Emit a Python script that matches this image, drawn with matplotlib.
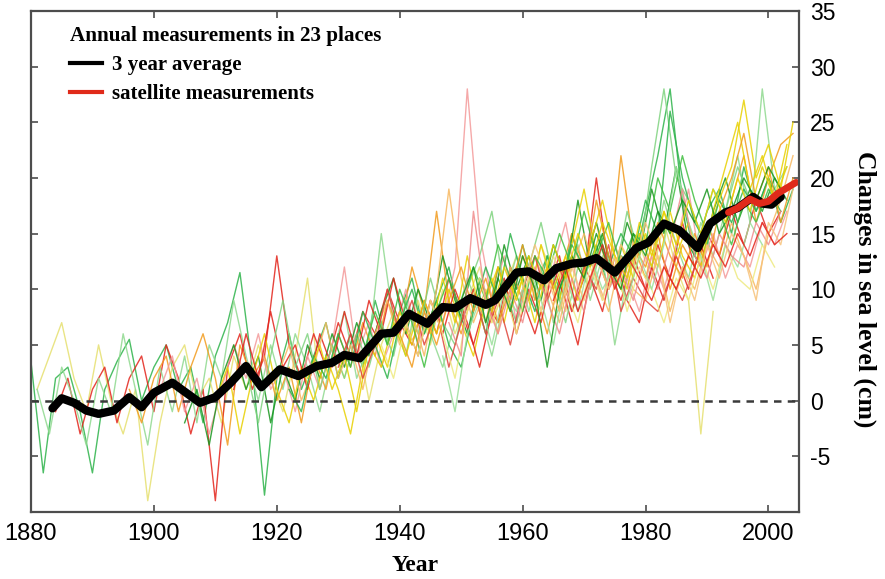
import numpy as np
import matplotlib
matplotlib.use("Agg")
import matplotlib.pyplot as plt
from matplotlib.lines import Line2D

plt.rcParams['axes.unicode_minus'] = False

# 3 year average (black) and satellite record (red)
avg_years = [1883.5, 1885, 1887, 1889, 1891, 1893.5, 1896, 1898, 1900, 1903, 1905, 1907.5,
             1910, 1912.5, 1915, 1917.5, 1920.5, 1923.5, 1926.5, 1929, 1931, 1933.5, 1937,
             1939, 1941.5, 1944.5, 1947, 1949, 1951.5, 1954, 1955.5, 1959, 1961, 1963.5,
             1965.5, 1968, 1970, 1972, 1975, 1978.5, 1980.5, 1983, 1985.5, 1988.5, 1990.5,
             1993, 1995, 1997.5, 1999, 2000.5, 2002]
avg_vals = [-0.7, 0.2, -0.2, -0.9, -1.2, -0.9, 0.3, -0.6, 0.7, 1.6, 0.8, -0.2,
            0.3, 1.6, 3.1, 1.2, 2.8, 2.2, 3.1, 3.4, 4.1, 3.8, 6.0,
            6.1, 7.8, 6.9, 8.4, 8.3, 9.2, 8.6, 9.0, 11.5, 11.6, 10.8,
            11.9, 12.3, 12.4, 12.8, 11.5, 13.7, 14.2, 15.9, 15.3, 13.7, 15.9,
            16.9, 17.3, 18.3, 17.7, 17.6, 18.3]
sat_years = [1993.5, 1995, 1997, 1998.5, 2000, 2001.5, 2003, 2004.5]
sat_vals = [16.9, 17.3, 18.1, 17.7, 17.9, 18.6, 19.1, 19.6]

# tide gauge records, one value every 2 years from the start year
starts = [1880, 1881, 1884, 1881, 1896, 1901, 1905, 1910, 1913, 1915, 1920, 1922,
          1925, 1930, 1934, 1937, 1940, 1947, 1948, 1950, 1955, 1960, 1965]
s01 = [3.5, -6.5, 2, 3, -1, -6.5, 1, 3.5, 5.5, 0, 3, 5, 1, 3, -2, 4, 7, 11.5, 3, -8.5,
       2, 6, 1, 4, 7, 2, 6, 3, 9, 5, 8, 11, 6, 9, 12, 7, 10, 6, 12, 9, 14, 10, 13, 9,
       15, 11, 14, 10, 13, 12, 17, 22, 28, 18, 13, 17, 19, 15, 21, 17, 20, 16, 19]
s02 = [1, 4, 7, 2, -1, 5, 0, -3, 1, -9, -2, 3, 5, 0, 2, -2, 4, 1, 5, 2, -1, 4, 11, 1,
       5, 2, 6, 0, 5, 8, 4, 9, 5, 10, 6, 9, 12, 7, 10, 13, 9, 14, 11, 8, 13, 10, 15, 11,
       9, 14, 11, 16, 12, 9, -3, 8]
s03 = [-1, 2, -3, 1, 3, -2, 2, 4, -1, 5, 2, -3, 1, -9, 3, 6, 1, 4, 13, 5, 2, 6, 3, 7,
       4, 8, 6, 10, 7, 5, 9, 6, 11, 8, 5, 9, 7, 12, 9, 6, 10, 13, 8, 11, 20, 12, 9, 13,
       10, 14, 11, 16, 12, 15, 13, 17, 14, 18, 15, 17]
s04 = [1, -3, 3, 0, -4, 2, -1, 6, 1, -4, 3, -1, 4, -2, 5, 2, 9, 4, 0, 5, 1, 6, 3, -1,
       4, 8, 2, 5, 15, 7, 4, 10, 6, 3, 7, 11, 8, 4, 9, 13, 8, 12, 7, 10, 14, 9, 13, 5,
       11, 15, 12, 18, 14, 11, 16, 13, 17, 22, 16, 28, 19, 21]
s05 = [1, -2, 2, 4, -1, 3, 6, 2, -4, 5, 2, 4, 0, 3, -2, 4, 1, 6, 3, 7, 4, 9, 6, 12, 8,
       17, 9, 6, 10, 7, 12, 9, 13, 10, 6, 11, 15, 12, 16, 11, 22, 14, 11, 15, 10, 14,
       12, 16, 13, 18, 22, 16, 20, 23, 24]
s06 = [1, 4, -1, 2, -3, 1, 5, 2, 6, 1, 3, -1, 4, 1, 5, 12, 4, 7, 3, 6, 10, 5, 9, 7, 12,
       28, 15, 9, 13, 7, 11, 8, 12, 16, 10, 13, 9, 14, 11, 8, 13, 10, 14, 19, 12, 15,
       11, 14, 12, 16, 14, 17]
s07 = [-2, 1, -4, 2, 5, 1, 4, -2, 3, 0, 5, 2, 6, 3, 7, 4, 8, 11, 6, 10, 7, 13, 9, 6,
       11, 8, 14, 10, 13, 9, 14, 11, 18, 12, 15, 11, 16, 13, 19, 15, 21, 14, 12, 17,
       20, 16, 19, 17, 20, 18]
s08 = [0, 3, -3, 2, 6, 1, -2, 3, 0, 4, 1, -3, 3, 6, 3, 8, 5, 9, 6, 10, 7, 4, 9, 12, 8,
       11, 7, 12, 9, 14, 19, 13, 10, 14, 11, 15, 12, 17, 13, 11, 15, 18, 21, 27, 20,
       23, 19, 25]
s09 = [1, 6, 2, 8, 3, 5, 1, 6, 3, 8, 4, 9, 6, 11, 7, 4, 9, 6, 10, 7, 3, 8, 11, 6, 10,
       7, 12, 9, 5, 11, 8, 13, 9, 7, 12, 9, 13, 10, 14, 11]
s10 = [3, -2, 4, 9, 3, 6, 1, 5, 2, 6, 3, 7, 4, 9, 6, 11, 7, 5, 10, 13, 17, 10, 7, 12,
       16, 11, 7, 12, 10, 14, 11, 17, 13, 21, 28, 20, 18, 15, 19, 17, 21, 18]
s11 = [2, 5, 0, 3, 7, 2, 5, 1, 6, 9, 5, 8, 4, 10, 19, 11, 7, 10, 6, 12, 9, 13, 10, 7,
       12, 15, 11, 8, 13, 10, 9, 13, 8, 12, 10, 14, 12, 16, 13, 10, 15, 18, 22]
s12 = [1, -1, 4, 2, 6, 3, 8, 5, 2, 7, 10, 6, 9, 5, 3, 8, 12, 9, 15, 11, 8, 13, 10, 14,
       12, 16, 12, 15, 13, 18, 15, 26, 20, 16, 14, 18, 16, 19, 17, 20, 18]
s13 = [2, 5, 1, 4, -1, 5, 3, 7, 4, 8, 6, 11, 7, 13, 8, 11, 7, 12, 9, 14, 10, 13, 9, 14,
       18, 13, 10, 15, 12, 17, 13, 16, 12, 17, 21, 25, 19, 22, 18, 21]
s14 = [3, 6, 2, 5, 10, 6, 9, 5, 8, 3, 7, 10, 6, 9, 5, 10, 13, 9, 12, 8, 12, 10, 14, 8,
       11, 9, 8, 11, 9, 12]
s15 = [4, 8, 5, 10, 7, 3, 8, 11, 8, 12, 9, 14, 11, 8, 13, 11, 15, 12, 17, 13, 16, 12,
       15, 14, 20, 17, 22, 18, 15, 17, 14, 18, 16, 19, 17]
s16 = [5, 2, 7, 4, 9, 6, 2, 8, 11, 7, 10, 6, 11, 8, 13, 10, 7, 12, 9, 13, 8, 12, 10, 7,
       11, 9, 13, 10, 14, 11, 10, 14, 12]
s17 = [6, 3, 8, 5, 9, 12, 8, 11, 7, 10, 14, 9, 12, 8, 13, 11, 18, 13, 10, 14, 12, 16,
       13, 11, 15, 12, 17, 20, 24, 18, 21, 16, 20]
s18 = [4, -1, 6, 9, 5, 10, 8, 12, 9, 5, 11, 8, 13, 10, 12, 9, 13, 10, 14, 21, 16, 13,
       9, 14, 12, 16, 14]
s19 = [7, 4, 17, 9, 6, 10, 7, 12, 9, 6, 11, 8, 13, 10, 12, 9, 13, 10, 14, 19, 13, 11,
       15, 13, 12, 16, 14, 17]
s20 = [9, 12, 7, 11, 8, 13, 10, 3, 10, 13, 11, 15, 12, 10, 15, 13, 17, 15, 18, 16, 19,
       15, 17, 20, 18, 21, 19]
s21 = [8, 12, 9, 13, 10, 14, 11, 15, 12, 16, 13, 11, 16, 13, 17, 14, 18, 15, 19, 16,
       20, 17, 21, 18, 23]
s22 = [10, 14, 11, 8, 12, 9, 13, 10, 14, 12, 16, 13, 7, 12, 9, 14, 11, 15, 13, 9, 16,
       14, 19]
s23 = [9, 12, 8, 11, 14, 10, 13, 11, 9, 12, 10, 13, 11, 14, 12, 15, 13, 16, 14, 15]
gauges = [s01, s02, s03, s04, s05, s06, s07, s08, s09, s10, s11, s12,
          s13, s14, s15, s16, s17, s18, s19, s20, s21, s22, s23]

line_colors = ['#2db34a', '#e6e070', '#e3241b', '#8fd98f', '#f29b1d', '#f49a9a',
               '#18951e', '#e8d000', '#e3241b', '#7fd37f', '#f7b860', '#2db34a',
               '#e8d000', '#e0443a', '#3fbf3f', '#eeea80', '#f29b1d', '#9be09b',
               '#f08c8c', '#18951e', '#e8d000', '#f7c27a', '#e3241b']

fig = plt.figure(figsize=(8.85, 5.79), dpi=100)
ax = fig.add_axes([0.035, 0.116, 0.868, 0.865])

for st, vals, c in zip(starts, gauges, line_colors):
    yrs = st + 2 * np.arange(len(vals))
    ax.plot(yrs, vals, color=c, lw=1.0, alpha=0.85)

ax.axhline(0, color='#3a3a3a', lw=1.8, ls=(0, (3, 2.5)))
ax.plot(avg_years, avg_vals, color='black', lw=6, solid_capstyle='round', solid_joinstyle='round')
ax.plot(sat_years, sat_vals, color='#e02a1a', lw=5, solid_capstyle='round')

ax.set_xlim(1880, 2005)
ax.set_ylim(-10, 35)
ax.set_xticks([1880, 1900, 1920, 1940, 1960, 1980, 2000])
ax.set_yticks([-5, 0, 5, 10, 15, 20, 25, 30, 35])
ax.yaxis.tick_right()
ax.tick_params(axis='both', direction='in', length=5, width=1.2, color='#4d4d4d',
               top=True, bottom=True, left=True, right=True, labelleft=False)
ax.tick_params(axis='x', labelsize=17, pad=8)
ax.tick_params(axis='y', labelsize=16.5, pad=8)
for lab in ax.get_xticklabels() + ax.get_yticklabels():
    lab.set_fontfamily('Liberation Sans')
for sp in ax.spines.values():
    sp.set_color('#4d4d4d')
    sp.set_linewidth(1.6)

ax.set_xlabel('Year', family='Liberation Serif', weight='bold', fontsize=17, labelpad=7)
fig.text(0.977, 0.5, 'Changes in sea level (cm)', family='Liberation Serif',
         weight='bold', fontsize=18.5, rotation=270, ha='center', va='center')

handles = [Line2D([], [], color='black', lw=3), Line2D([], [], color='#e02a1a', lw=3)]
leg = ax.legend(handles, ['3 year average', 'satellite measurements'],
                title='Annual measurements in 23 places', loc='upper left',
                bbox_to_anchor=(0.027, 1.008), frameon=False, alignment='left',
                handlelength=1.5, handletextpad=0.5, labelspacing=0.45,
                prop={'family': 'Liberation Serif', 'weight': 'bold', 'size': 15},
                title_fontproperties={'family': 'Liberation Serif', 'weight': 'bold',
                                      'size': 15.2})

fig.savefig('out.png', dpi=100)
